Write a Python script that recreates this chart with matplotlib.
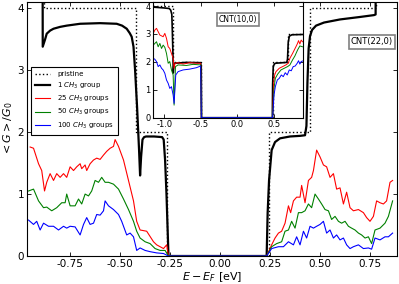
import numpy as np
import matplotlib.pyplot as plt

plt.rcParams['axes.unicode_minus'] = False
plt.rcParams['mathtext.fontset'] = 'dejavusans'

# ---- main panel, CNT(22,0) ----
prist_e = [-0.97, -0.88, -0.42, -0.263, 0.245, 0.45, 0.778, 0.885]
prist_g = [6, 4, 2, 0, 2, 4, 6, 6]

one_e = [-0.97, -0.888, -0.887, -0.875, -0.867, -0.85, -0.833, -0.8, -0.767, -0.7, -0.6,
         -0.517, -0.49, -0.467, -0.452, -0.442, -0.433, -0.425, -0.415, -0.405, -0.40,
         -0.395, -0.388, -0.38, -0.37, -0.33, -0.29, -0.282, -0.275, -0.268, -0.262,
         -0.258, 0.233, 0.238, 0.245, 0.258, 0.275, 0.30, 0.35, 0.40, 0.425, 0.432,
         0.437, 0.443, 0.45, 0.46, 0.48, 0.52, 0.6, 0.7, 0.77, 0.778, 0.779, 0.885]
one_g = [5.8, 5.8, 3.38, 3.5, 3.59, 3.64, 3.67, 3.70, 3.72, 3.75, 3.76,
         3.75, 3.72, 3.67, 3.60, 3.54, 3.38, 3.0, 2.4, 1.7, 1.30,
         1.6, 1.88, 1.92, 1.93, 1.93, 1.92, 1.88, 1.55, 1.0, 0.4,
         0.0, 0.0, 0.7, 1.22, 1.71, 1.84, 1.90, 1.93, 1.94, 1.95, 2.1,
         2.8, 3.35, 3.55, 3.65, 3.72, 3.77, 3.82, 3.86, 3.89, 3.9, 5.8, 5.8]

red_e = [-0.95, -0.933, -0.908, -0.892, -0.878, -0.867, -0.85, -0.833, -0.817, -0.80,
         -0.783, -0.767, -0.75, -0.733, -0.717, -0.70, -0.692, -0.675, -0.667, -0.65,
         -0.633, -0.617, -0.60, -0.583, -0.567, -0.55, -0.533, -0.525, -0.508, -0.483,
         -0.458, -0.433, -0.417, -0.40, -0.367, -0.333, -0.317, -0.30, -0.283, -0.267,
         -0.258, 0.233, 0.258, 0.275, 0.292, 0.308, 0.325, 0.342, 0.353, 0.367, 0.383,
         0.40, 0.408, 0.425, 0.442, 0.458, 0.467, 0.483, 0.50, 0.517, 0.533, 0.55,
         0.567, 0.583, 0.60, 0.617, 0.633, 0.65, 0.667, 0.692, 0.717, 0.733, 0.75,
         0.767, 0.783, 0.80, 0.817, 0.833, 0.85, 0.863]
red_g = [1.76, 1.74, 1.49, 1.38, 1.05, 1.19, 1.33, 1.22, 1.33, 1.27,
         1.33, 1.27, 1.44, 1.38, 1.44, 1.49, 1.41, 1.47, 1.38, 1.49,
         1.55, 1.58, 1.56, 1.63, 1.69, 1.74, 1.77, 1.88, 1.77, 1.55,
         1.22, 0.89, 0.56, 0.42, 0.40, 0.23, 0.18, 0.15, 0.12, 0.18,
         0.0, 0.0, 0.18, 0.29, 0.37, 0.40, 0.53, 0.81, 0.70, 0.89, 0.95,
         0.95, 1.14, 0.86, 1.22, 1.27, 1.38, 1.71, 1.60, 1.47, 1.44, 1.27,
         1.33, 1.08, 1.10, 0.84, 1.03, 0.78, 0.73, 0.75, 0.70, 0.62, 0.56,
         0.64, 0.89, 0.86, 0.84, 0.89, 1.19, 1.22]

green_e = [-0.958, -0.933, -0.908, -0.883, -0.867, -0.842, -0.817, -0.792, -0.775, -0.767,
           -0.75, -0.725, -0.708, -0.692, -0.675, -0.658, -0.642, -0.625, -0.608, -0.592,
           -0.575, -0.558, -0.533, -0.508, -0.483, -0.458, -0.433, -0.417, -0.40, -0.375,
           -0.35, -0.325, -0.30, -0.275, -0.258, 0.233, 0.258, 0.283, 0.308, 0.325, 0.342,
           0.358, 0.375, 0.392, 0.408, 0.425, 0.442, 0.458, 0.475, 0.492, 0.508, 0.525,
           0.542, 0.558, 0.575, 0.592, 0.608, 0.625, 0.642, 0.658, 0.675, 0.692, 0.708,
           0.725, 0.742, 0.758, 0.775, 0.80, 0.825, 0.842, 0.863]
green_g = [1.05, 1.08, 0.89, 0.78, 0.79, 0.73, 0.78, 0.86, 0.86, 1.0,
           0.81, 0.81, 0.92, 0.84, 1.0, 0.97, 1.05, 1.22, 1.19, 1.27,
           1.19, 1.19, 1.16, 1.08, 0.92, 0.75, 0.56, 0.40, 0.29, 0.23,
           0.20, 0.12, 0.09, 0.09, 0.0, 0.0, 0.15, 0.20, 0.23, 0.40, 0.42,
           0.56, 0.45, 0.70, 0.70, 0.73, 0.84, 0.78, 1.0, 0.92, 0.84, 0.75,
           0.73, 0.59, 0.64, 0.56, 0.53, 0.56, 0.48, 0.45, 0.42, 0.37, 0.34,
           0.29, 0.31, 0.20, 0.42, 0.45, 0.53, 0.64, 0.89]

blue_e = [-0.958, -0.933, -0.917, -0.90, -0.883, -0.858, -0.833, -0.808, -0.783, -0.767,
          -0.75, -0.725, -0.70, -0.683, -0.667, -0.65, -0.633, -0.617, -0.60, -0.583,
          -0.575, -0.558, -0.533, -0.508, -0.492, -0.467, -0.45, -0.433, -0.417, -0.40,
          -0.375, -0.35, -0.317, -0.283, -0.258, 0.233, 0.258, 0.292, 0.317, 0.342, 0.367,
          0.383, 0.40, 0.417, 0.433, 0.45, 0.467, 0.483, 0.50, 0.517, 0.533, 0.55,
          0.567, 0.583, 0.60, 0.617, 0.633, 0.65, 0.667, 0.692, 0.717, 0.742, 0.758,
          0.775, 0.80, 0.825, 0.842, 0.863]
blue_g = [0.58, 0.51, 0.56, 0.42, 0.53, 0.48, 0.48, 0.42, 0.48, 0.45,
          0.48, 0.47, 0.34, 0.51, 0.62, 0.51, 0.53, 0.67, 0.66, 0.73,
          0.89, 0.81, 0.75, 0.67, 0.56, 0.34, 0.37, 0.31, 0.09, 0.13,
          0.09, 0.07, 0.05, 0.04, 0.0, 0.0, 0.12, 0.15, 0.15, 0.23, 0.18,
          0.31, 0.18, 0.40, 0.29, 0.48, 0.45, 0.48, 0.51, 0.56, 0.37, 0.42,
          0.29, 0.34, 0.26, 0.29, 0.18, 0.12, 0.15, 0.18, 0.12, 0.13, 0.11,
          0.29, 0.26, 0.31, 0.31, 0.37]

# ---- inset, CNT(10,0) ----
in_prist_e = [-1.15, -0.877, -0.49, 0.486, 0.69, 0.9]
in_prist_g = [4, 2, 0, 2, 3, 3]

in_one_e = [-1.15, -1.0, -0.93, -0.91, -0.895, -0.888, -0.88, -0.875, -0.868, -0.86,
            -0.7, -0.5, -0.492, -0.487, 0.482, 0.486, 0.495, 0.52, 0.68, 0.69, 0.70,
            0.715, 0.75, 0.9]
in_one_g = [3.96, 3.93, 3.91, 3.85, 3.7, 3.1, 2.3, 1.6, 1.85, 1.95,
            1.98, 1.97, 1.8, 0.0, 0.0, 1.2, 1.85, 1.95, 1.98, 2.1, 2.7,
            2.92, 2.97, 2.98]

in_red_e = [-1.15, -1.127, -1.105, -1.082, -1.059, -1.036, -1.014, -0.991, -0.968, -0.945,
            -0.923, -0.9, -0.877, -0.864, -0.85, -0.809, -0.741, -0.65, -0.559, -0.5,
            -0.491, 0.486, 0.5, 0.514, 0.532, 0.577, 0.623, 0.668, 0.7, 0.723, 0.759,
            0.782, 0.805, 0.827, 0.841, 0.859, 0.877, 0.895]
in_red_g = [3.02, 3.14, 3.2, 3.08, 2.96, 2.93, 2.90, 3.02, 2.84, 2.54,
            2.48, 2.30, 2.13, 1.77, 1.95, 1.97, 1.92, 1.97, 1.95, 1.95,
            0.0, 0.0, 1.23, 1.53, 1.65, 1.77, 1.83, 1.89, 1.95, 2.13, 2.30,
            2.42, 2.54, 2.66, 2.76, 2.64, 2.78, 2.72]

in_green_e = [-1.15, -1.127, -1.105, -1.082, -1.059, -1.036, -1.014, -0.991, -0.968, -0.945,
              -0.923, -0.9, -0.877, -0.864, -0.845, -0.809, -0.695, -0.605, -0.5, -0.491,
              0.486, 0.505, 0.523, 0.555, 0.6, 0.645, 0.691, 0.723, 0.759, 0.791, 0.827,
              0.859, 0.895]
in_green_g = [2.60, 2.66, 2.72, 2.54, 2.66, 2.48, 2.60, 2.52, 2.30, 1.95,
              2.01, 1.71, 1.53, 0.45, 1.83, 1.89, 1.87, 1.91, 1.89, 0.0,
              0.0, 1.05, 1.41, 1.56, 1.71, 1.77, 1.83, 1.89, 2.07, 2.21, 2.42,
              2.57, 2.54]

in_blue_e = [-1.15, -1.127, -1.105, -1.082, -1.059, -1.036, -1.014, -0.991, -0.968, -0.945,
             -0.923, -0.9, -0.877, -0.864, -0.841, -0.809, -0.741, -0.65, -0.559, -0.5,
             -0.491, 0.486, 0.505, 0.523, 0.55, 0.577, 0.605, 0.632, 0.659, 0.686, 0.714,
             0.741, 0.768, 0.795, 0.823, 0.841, 0.859, 0.877, 0.895]
in_blue_g = [2.13, 2.09, 2.01, 1.83, 1.89, 1.77, 1.71, 1.59, 1.35, 1.23,
             1.05, 1.11, 0.81, 0.51, 1.53, 1.65, 1.71, 1.74, 1.79, 1.85,
             0.0, 0.0, 0.81, 1.11, 1.35, 1.41, 1.53, 1.47, 1.61, 1.53, 1.71,
             1.68, 1.83, 1.85, 1.95, 2.04, 1.92, 2.01, 2.03]

labels = ['pristine', '1 $CH_3$ group', '25 $CH_3$ groups',
          '50 $CH_3$ groups', '100 $CH_3$ groups']


def tick_style(ax, size):
    ax.tick_params(direction='in', top=True, right=True, labelsize=size,
                   length=3, width=0.6, pad=2)


fig = plt.figure(figsize=(3.99, 2.84), dpi=100)
ax = fig.add_axes([0.067, 0.0986, 0.928, 0.894])

ax.step(prist_e, prist_g, where='post', color='k', ls=':', lw=1.0, label=labels[0])
ax.plot(one_e, one_g, color='k', lw=1.6, label=labels[1])
ax.plot(red_e, red_g, color='r', lw=0.8, label=labels[2])
ax.plot(green_e, green_g, color='g', lw=0.8, label=labels[3])
ax.plot(blue_e, blue_g, color='b', lw=0.8, label=labels[4])

ax.set_xlim(-0.967, 0.885)
ax.set_ylim(0, 4.1)
ax.set_xticks([-0.75, -0.5, -0.25, 0.0, 0.25, 0.5, 0.75])
ax.set_xticklabels(['-0.75', '-0.50', '-0.25', '0.00', '0.25', '0.50', '0.75'])
ax.set_yticks([0, 1, 2, 3, 4])
tick_style(ax, 7.5)
ax.set_xlabel('$E - E_F$ [eV]', fontsize=8, labelpad=1)
ax.set_ylabel('$<G>/G_0$', fontsize=8, labelpad=2)

leg = ax.legend(loc='upper left', bbox_to_anchor=(0.011, 0.744), fontsize=5,
                fancybox=False, edgecolor='k', framealpha=1, handlelength=2.2,
                labelspacing=0.45, borderpad=0.6, handletextpad=1.0,
                borderaxespad=0)
leg.get_frame().set_linewidth(0.8)

ax.text(0.932, 0.843, 'CNT(22,0)', transform=ax.transAxes, fontsize=6,
        ha='center', va='center',
        bbox=dict(boxstyle='square,pad=0.25', fc='white', ec='gray', lw=1.2))

ins = fig.add_axes([0.384, 0.5856, 0.375, 0.408])
ins.step(in_prist_e, in_prist_g, where='post', color='k', ls=':', lw=1.0)
ins.plot(in_one_e, in_one_g, color='k', lw=1.2)
ins.plot(in_red_e, in_red_g, color='r', lw=0.7)
ins.plot(in_green_e, in_green_g, color='g', lw=0.7)
ins.plot(in_blue_e, in_blue_g, color='b', lw=0.7)
ins.set_xlim(-1.15, 0.9)
ins.set_ylim(0, 4.15)
ins.set_xticks([-1.0, -0.5, 0.0, 0.5])
ins.set_xticklabels(['-1.0', '-0.5', '0.0', '0.5'])
ins.set_yticks([0, 1, 2, 3, 4])
tick_style(ins, 6)
ins.text(0.567, 0.85, 'CNT(10,0)', transform=ins.transAxes, fontsize=5.5,
         ha='center', va='center',
         bbox=dict(boxstyle='square,pad=0.25', fc='white', ec='gray', lw=1.2))

fig.savefig('out.png', dpi=100)
